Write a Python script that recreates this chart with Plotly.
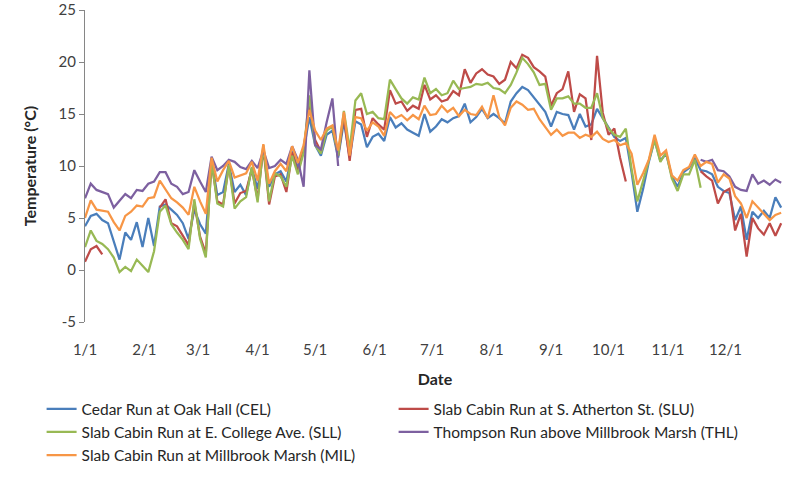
import pandas as pd
import plotly.graph_objects as go

# Daily-ish stream temperature readings (°C), sampled every 3 days through the year
dates = pd.date_range("2010-01-01", periods=122, freq="3D")

cel = [4.2, 5.2, 5.4, 4.8, 4.5, 2.8, 1.0, 3.6, 2.9, 4.6,
       2.2, 5.0, 2.3, 6.1, 6.3, 5.8, 5.3, 4.5, 3.0, 5.8,
       4.4, 3.5, 10.5, 7.2, 7.5, 10.2, 7.5, 8.2, 7.2, 9.8,
       7.8, 11.5, 8.0, 9.2, 9.5, 8.5, 11.4, 9.8, 11.5, 14.7,
       12.0, 11.0, 13.0, 13.4, 10.8, 14.3, 10.8, 14.3, 14.0, 11.8,
       12.8, 13.1, 12.4, 14.7, 13.7, 14.1, 13.5, 13.2, 12.9, 15.0,
       13.3, 13.8, 14.5, 14.2, 14.6, 14.8, 16.0, 14.2, 14.7, 15.5,
       14.6, 15.0, 14.6, 14.1, 16.2, 17.0, 17.6, 17.3, 16.6, 16.0,
       15.2, 13.8, 15.2, 15.0, 14.9, 13.5, 15.0, 13.8, 14.0, 15.5,
       14.6, 13.6, 12.8, 12.4, 12.7, 9.4, 5.6, 7.8, 10.4, 12.5,
       10.5, 11.2, 9.0, 8.0, 9.4, 9.8, 10.8, 9.6, 9.5, 9.2,
       8.0, 7.6, 7.4, 4.8, 6.1, 2.9, 5.6, 5.0, 5.7, 5.0,
       7.0, 6.0]

slu = [0.8, 2.0, 2.3, 1.5, None, None, None, None, None, None,
       None, None, None, 6.0, 6.8, 4.5, 4.2, 3.3, 2.4, 6.5,
       3.2, 1.6, 10.4, 6.6, 6.3, 10.0, 6.4, 7.4, 7.6, 9.7,
       6.8, 11.8, 6.3, 9.0, 9.2, 7.5, 11.3, 9.4, 11.5, 16.0,
       12.5, 11.4, 13.5, 13.8, 11.0, 14.8, 10.5, 15.4, 15.5, 12.8,
       14.6, 14.0, 13.5, 17.3, 16.0, 16.2, 15.3, 15.8, 15.5, 17.8,
       16.4, 16.8, 16.2, 16.4, 17.2, 16.8, 19.3, 18.0, 18.9, 19.3,
       18.8, 18.6, 17.9, 18.3, 20.0, 19.4, 20.7, 20.4, 19.5, 19.1,
       18.6, 15.8, 17.0, 17.4, 19.1, 15.2, 16.9, 16.5, 12.5, 20.6,
       15.1, 13.0, 13.6, 10.8, 8.5, None, None, None, None, None,
       None, None, None, None, None, None, None, 9.5, 9.0, 8.6,
       6.4, 7.5, 7.8, 3.8, 5.4, 1.3, 5.0, 4.0, 3.4, 4.5,
       3.3, 4.5]

sll = [2.2, 3.8, 2.8, 2.5, 2.0, 1.2, -0.2, 0.3, -0.1, 1.0,
       0.4, -0.2, 1.8, 5.6, 6.2, 4.4, 3.6, 2.9, 2.0, 6.8,
       3.0, 1.2, 10.5, 6.4, 6.1, 10.1, 5.9, 6.6, 7.0, 9.9,
       6.5, 12.0, 6.6, 9.3, 9.0, 8.0, 11.0, 9.2, 11.3, 16.8,
       12.0, 11.2, 13.4, 13.8, 11.0, 15.3, 11.6, 16.3, 17.0, 15.0,
       15.2, 14.6, 14.5, 18.3, 17.4, 16.5, 16.0, 16.6, 16.4, 18.5,
       17.0, 17.4, 16.8, 17.0, 18.2, 17.4, 17.5, 17.6, 17.9, 17.8,
       18.0, 17.5, 17.4, 17.0, 17.8, 19.0, 20.4, 19.8, 19.0, 17.8,
       17.9, 15.4, 16.5, 16.5, 16.7, 16.0, 16.0, 15.6, 15.6, 17.0,
       14.6, 13.6, 13.0, 12.8, 13.6, 9.7, 6.6, 8.6, 10.4, 12.5,
       10.4, 11.3, 8.8, 7.6, 9.2, 9.2, 10.6, 7.9, None, None,
       None, None, None, None, None, None, None, None, None, None,
       None, None]

thl = [6.9, 8.3, 7.7, 7.5, 7.3, 6.0, 6.6, 7.3, 6.9, 7.7,
       7.6, 8.3, 8.5, 9.4, 9.4, 8.3, 8.0, 7.3, 7.5, 9.6,
       8.5, 7.5, 10.9, 9.6, 10.0, 10.6, 10.4, 9.9, 9.7, 10.5,
       9.8, 11.5, 9.8, 10.0, 10.6, 10.2, 11.9, 10.6, 8.0, 19.2,
       12.0, 11.6, 14.2, 16.5, 10.0, None, None, None, None, None,
       None, None, None, None, None, None, None, None, None, None,
       None, None, None, None, None, None, None, None, None, None,
       None, None, None, None, None, None, None, None, None, None,
       None, None, None, None, None, None, None, None, None, None,
       None, None, None, None, None, None, None, None, None, None,
       None, None, None, None, None, None, None, 10.6, 10.4, 10.6,
       9.6, 9.5, 9.0, 8.0, 7.7, 7.6, 9.2, 8.3, 8.6, 8.2,
       8.7, 8.4]

mil = [5.0, 6.7, 5.8, 5.7, 5.6, 4.6, 3.8, 5.2, 5.6, 6.2,
       6.1, 6.9, 7.0, 8.6, 7.8, 6.9, 6.5, 6.0, 5.3, 8.0,
       6.6, 5.4, 10.8, 8.5, 9.6, 10.5, 8.9, 9.1, 9.3, 10.4,
       8.6, 12.1, 8.3, 9.5, 10.2, 9.5, 11.9, 10.3, 12.0, 15.4,
       13.4, 12.5, 13.6, 13.9, 11.5, 15.2, 11.0, 14.7, 14.6, 13.4,
       14.2, 13.8, 12.9, 15.2, 14.6, 14.9, 14.4, 14.9, 14.5, 15.8,
       14.9, 15.0, 15.8, 15.2, 15.6, 14.8, 15.4, 15.0, 14.9, 15.7,
       14.6, 16.8, 14.7, 13.9, 15.6, 16.2, 15.9, 15.4, 15.5, 14.5,
       13.8, 13.0, 13.5, 12.9, 13.2, 13.2, 12.7, 13.0, 12.8, 13.3,
       12.6, 12.3, 12.5, 12.0, 12.2, 11.2, 8.2, 9.3, 10.6, 13.0,
       11.0, 11.5, 9.1, 8.6, 9.6, 9.9, 11.1, 10.0, 10.4, 10.2,
       8.4, 9.2, 8.8, 7.1, 6.4, 5.0, 6.6, 6.0, 5.3, 4.8,
       5.3, 5.5]

series = [
    ("Cedar Run at Oak Hall (CEL)", cel, "#4A7EBB"),
    ("Slab Cabin Run at S. Atherton St. (SLU)", slu, "#BE4B48"),
    ("Slab Cabin Run at E. College Ave. (SLL)", sll, "#98B954"),
    ("Thompson Run above Millbrook Marsh (THL)", thl, "#7D60A0"),
    ("Slab Cabin Run at Millbrook Marsh (MIL)", mil, "#F79646"),
]

month_starts = pd.date_range("2010-01-01", "2011-01-01", freq="MS")
month_labels = [f"{d.month}/1" for d in month_starts[:-1]]

y_ticks = [-5, 0, 5, 10, 15, 20, 25]
y_labels = [str(v) for v in y_ticks]

FONT = "Lato, 'Open Sans', sans-serif"
AXIS_GRAY = "#868686"
TEXT = "#404040"

fig = go.Figure()
for name, vals, color in series:
    fig.add_trace(go.Scatter(
        x=dates, y=vals, name=name, mode="lines",
        line=dict(color=color, width=2.25),
        connectgaps=False,
    ))

fig.update_layout(
    width=786, height=488,
    margin=dict(l=85, r=1, t=10, b=166),
    paper_bgcolor="white", plot_bgcolor="white",
    font=dict(family=FONT, size=15, color=TEXT),
    showlegend=True,
    legend=dict(
        orientation="h", x=-0.062, xanchor="left", y=-0.225, yanchor="top",
        entrywidth=307, entrywidthmode="pixels",
        font=dict(family=FONT, size=15.5, color="#262626"),
        itemwidth=30, bgcolor="rgba(0,0,0,0)",
    ),
    xaxis=dict(
        type="date", range=["2010-01-01", "2011-01-01"],
        tickvals=list(month_starts[:-1]), ticktext=month_labels,
        showline=False, ticks="outside", ticklen=14, tickcolor="rgba(0,0,0,0)",
        showgrid=False, zeroline=False,
        tickfont=dict(family=FONT, size=15, color=TEXT),
        title=dict(text="<b>Date</b>", standoff=16,
                   font=dict(family=FONT, size=16, color="#262626")),
    ),
    xaxis2=dict(
        type="date", overlaying="x", matches="x", anchor="free", position=1 / 6,
        tickvals=list(month_starts), showticklabels=False,
        showline=True, linecolor=AXIS_GRAY, linewidth=1,
        ticks="outside", ticklen=5, tickcolor=AXIS_GRAY,
        showgrid=False, zeroline=False,
    ),
    yaxis=dict(
        range=[-5, 25], tickvals=y_ticks, ticktext=y_labels,
        showline=True, linecolor=AXIS_GRAY, linewidth=1,
        ticks="outside", ticklen=5, tickcolor=AXIS_GRAY,
        showgrid=False, zeroline=False,
        tickfont=dict(family=FONT, size=15, color=TEXT),
        title=dict(text="<b>Temperature (°C)</b>", standoff=17,
                   font=dict(family=FONT, size=16, color="#262626")),
    ),
)

fig.write_html("out.html")
